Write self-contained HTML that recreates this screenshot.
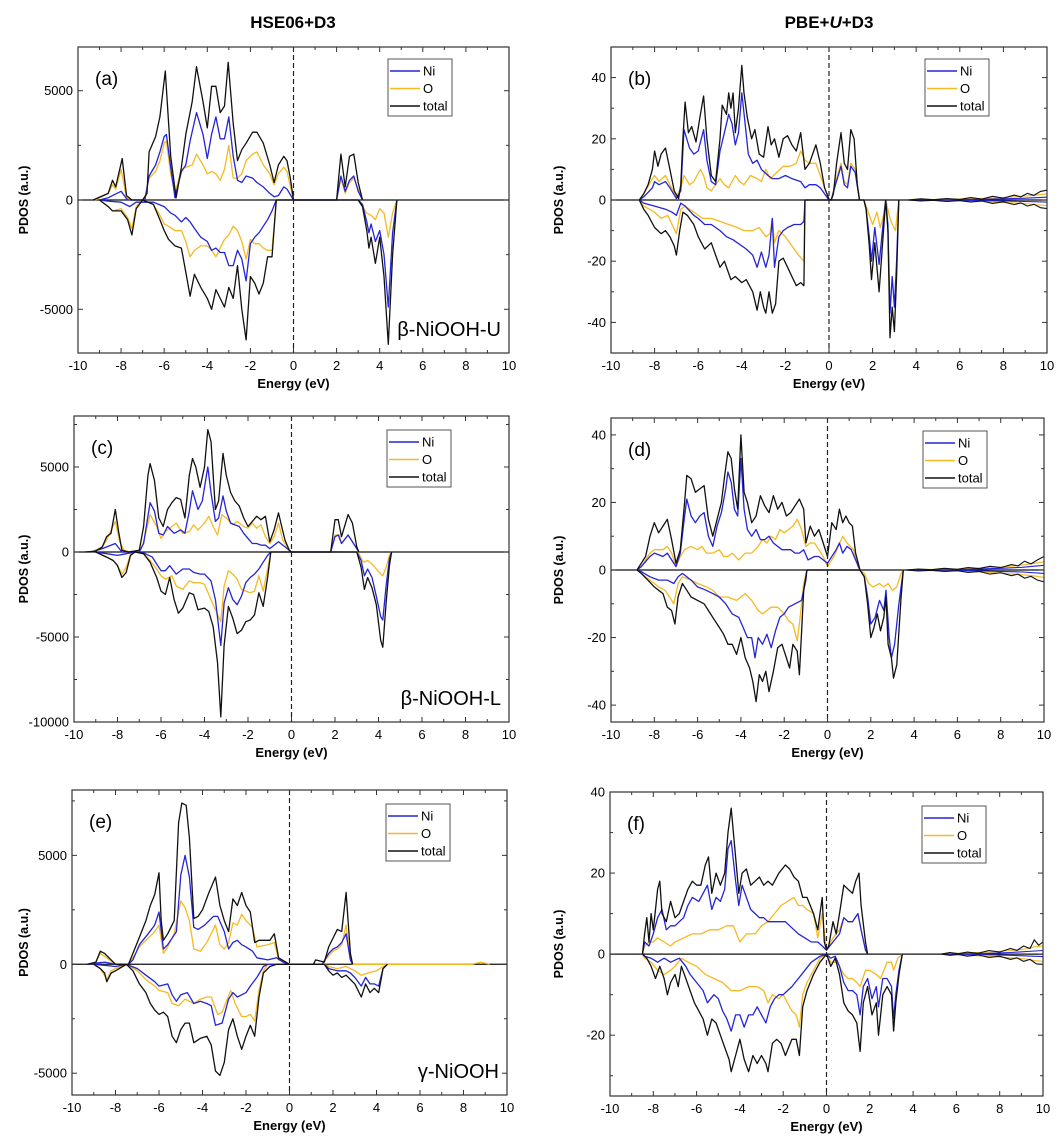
<!DOCTYPE html>
<html><head><meta charset="utf-8">
<style>
html,body{margin:0;padding:0;background:#fff;}
svg{display:block;font-family:"Liberation Sans",Arial,sans-serif;}
</style></head>
<body>
<svg id="fig" xmlns="http://www.w3.org/2000/svg" width="1062" height="1146" viewBox="0 0 1062 1146">
<rect width="1062" height="1146" fill="#fff"/>
<text x="293" y="28" text-anchor="middle" font-size="17" font-weight="bold">HSE06+D3</text>
<text x="829" y="28" text-anchor="middle" font-size="17" font-weight="bold">PBE+<tspan font-style="italic">U</tspan>+D3</text>
</svg>
<script>
// ---------- panel (a) data: [energy eV, PDOS] ----------
const a_tot_up=[[-9.3,0],[-8.6,300],[-8.4,900],[-8.25,600],[-7.95,1900],[-7.75,200],[-7.5,0],[-7.0,0],[-6.8,300],[-6.7,2200],[-6.4,2900],[-6.2,3800],[-5.95,5900],[-5.7,2000],[-5.45,100],[-5.2,1500],[-5.0,3000],[-4.7,4500],[-4.5,6100],[-4.2,4500],[-4.0,3300],[-3.8,5200],[-3.6,5200],[-3.4,4000],[-3.2,4300],[-3.03,6300],[-2.8,3500],[-2.6,1800],[-2.4,2300],[-2.2,2600],[-1.9,3100],[-1.7,3100],[-1.4,2600],[-1.1,1600],[-0.9,800],[-0.7,1600],[-0.45,2000],[-0.3,1800],[-0.15,1000],[0,0],[2.0,0],[2.2,2100],[2.4,600],[2.6,2000],[2.8,2100],[3.0,800],[3.2,0]];
const a_ni_up=[[-9.0,0],[-8.6,100],[-8.4,200],[-8.0,400],[-7.7,0],[-6.9,0],[-6.7,1100],[-6.4,1600],[-6.2,2200],[-6.0,2900],[-5.9,3000],[-5.7,1500],[-5.5,100],[-5.2,1300],[-5.0,1600],[-4.8,2700],[-4.5,4000],[-4.2,3000],[-4.0,1900],[-3.8,3000],[-3.6,3800],[-3.4,2800],[-3.2,2800],[-3.0,3800],[-2.8,2000],[-2.6,900],[-2.4,800],[-2.2,1100],[-1.9,1000],[-1.7,800],[-1.4,600],[-1.1,300],[-0.9,150],[-0.7,200],[-0.45,600],[-0.3,500],[0,0],[2.0,0],[2.2,1100],[2.4,400],[2.6,900],[2.8,1100],[3.0,400],[3.2,0]];
const a_o_up=[[-9.2,0],[-8.6,300],[-8.4,700],[-8.25,500],[-8.0,1400],[-7.75,100],[-7.5,0],[-6.9,0],[-6.7,1000],[-6.4,1300],[-6.2,1800],[-6.0,2600],[-5.9,2700],[-5.7,1200],[-5.5,300],[-5.2,1400],[-5.0,1500],[-4.7,1600],[-4.5,2100],[-4.2,1600],[-4.0,1200],[-3.8,1300],[-3.6,1200],[-3.4,900],[-3.2,1400],[-3.0,2500],[-2.8,1000],[-2.6,1000],[-2.4,1200],[-2.2,1800],[-1.9,2100],[-1.7,2200],[-1.4,1600],[-1.1,1200],[-0.9,700],[-0.7,1200],[-0.45,1500],[-0.3,1300],[0,0],[2.0,0],[2.2,1000],[2.4,300],[2.6,800],[2.8,1000],[3.0,500],[3.2,0]];
const a_tot_dn=[[-9.0,0],[-8.6,-300],[-8.4,-500],[-8.0,-500],[-7.7,-900],[-7.5,-1600],[-7.3,-400],[-7.0,0],[-6.5,-200],[-6.2,-900],[-6.0,-1400],[-5.8,-1800],[-5.5,-2100],[-5.2,-2200],[-5.0,-3300],[-4.8,-4400],[-4.6,-3400],[-4.3,-4000],[-4.0,-4500],[-3.8,-5000],[-3.6,-4100],[-3.4,-4500],[-3.2,-4900],[-3.0,-4000],[-2.8,-4500],[-2.6,-3000],[-2.4,-5000],[-2.2,-6400],[-2.0,-3500],[-1.8,-3800],[-1.6,-4300],[-1.4,-3800],[-1.2,-2600],[-1.0,-2600],[-0.8,0],[3.0,0],[3.2,-300],[3.4,-1400],[3.5,-2200],[3.6,-1700],[3.8,-2900],[4.0,-1700],[4.2,-3500],[4.4,-6600],[4.6,-2500],[4.8,0]];
const a_ni_dn=[[-9.0,0],[-8.6,-50],[-8.0,-100],[-7.6,-300],[-7.3,-100],[-6.5,-100],[-6.0,-300],[-5.7,-600],[-5.5,-700],[-5.2,-1000],[-5.0,-800],[-4.8,-1000],[-4.6,-1300],[-4.3,-1700],[-4.0,-1900],[-3.8,-2300],[-3.6,-2200],[-3.4,-2400],[-3.2,-2400],[-3.0,-3000],[-2.8,-3000],[-2.6,-2300],[-2.4,-2700],[-2.2,-3700],[-2.0,-2000],[-1.8,-1700],[-1.6,-1500],[-1.4,-1200],[-1.2,-900],[-1.0,-500],[-0.8,0],[3.0,0],[3.2,-200],[3.4,-1000],[3.5,-1500],[3.6,-1100],[3.8,-1900],[4.0,-1400],[4.2,-2500],[4.4,-4900],[4.6,-1500],[4.8,0]];
const a_o_dn=[[-9.0,0],[-8.6,-300],[-8.4,-500],[-8.0,-400],[-7.7,-800],[-7.5,-1300],[-7.3,-300],[-7.0,0],[-6.5,-200],[-6.2,-700],[-6.0,-1100],[-5.8,-1200],[-5.5,-1400],[-5.2,-1400],[-5.0,-1900],[-4.8,-2600],[-4.6,-2300],[-4.3,-2100],[-4.0,-2100],[-3.8,-2300],[-3.6,-2600],[-3.4,-2200],[-3.2,-1800],[-3.0,-1600],[-2.8,-1200],[-2.6,-1400],[-2.4,-1900],[-2.2,-2700],[-2.0,-1800],[-1.8,-2000],[-1.6,-2000],[-1.4,-2200],[-1.2,-2300],[-1.0,-2300],[-0.8,0],[3.0,0],[3.2,-300],[3.4,-600],[3.6,-700],[3.8,-900],[4.0,-400],[4.2,-600],[4.4,-1700],[4.6,-600],[4.8,0]];

// ---------- panel (b) data ----------
const b_tot_up=[[-8.7,0],[-8.5,2],[-8.3,5],[-8.1,10],[-8.0,16],[-7.85,11],[-7.7,15],[-7.5,17],[-7.3,10],[-7.1,3],[-6.9,0.5],[-6.8,5],[-6.7,20],[-6.6,32],[-6.45,22],[-6.3,24],[-6.1,19],[-5.9,28],[-5.75,34],[-5.6,20],[-5.4,8],[-5.2,6],[-5.0,20],[-4.9,31],[-4.7,28],[-4.6,35],[-4.5,30],[-4.4,35],[-4.3,22],[-4.15,30],[-4.0,44],[-3.9,35],[-3.75,27],[-3.55,20],[-3.4,23],[-3.2,15],[-3.0,14],[-2.8,24],[-2.65,18],[-2.5,20],[-2.3,14],[-2.1,20],[-1.9,21],[-1.7,18],[-1.5,16],[-1.3,22],[-1.1,10],[-0.9,12],[-0.6,18],[-0.4,12],[-0.2,4],[0,0.3],[0.1,0],[0.2,2],[0.35,12],[0.55,22],[0.7,12],[0.85,10],[1.0,23],[1.15,20],[1.3,5],[1.4,0]];
const b_ni_up=[[-8.7,0],[-8.5,1],[-8.1,4],[-8.0,6],[-7.8,5],[-7.5,6],[-7.3,4],[-7.0,0.5],[-6.8,3],[-6.65,23],[-6.4,17],[-6.2,15],[-6.0,16],[-5.75,23],[-5.6,13],[-5.4,6],[-5.2,5],[-5.0,16],[-4.8,22],[-4.6,28],[-4.45,25],[-4.3,18],[-4.15,22],[-4.0,35],[-3.85,25],[-3.7,15],[-3.5,12],[-3.3,13],[-3.1,10],[-2.8,8],[-2.6,7],[-2.3,7],[-2.0,8],[-1.7,7],[-1.3,6],[-1.1,4],[-0.9,5],[-0.6,5],[-0.4,4],[-0.2,2],[0,0],[0.1,0],[0.3,5],[0.55,11],[0.7,5],[0.85,4],[1.0,11],[1.2,9],[1.4,0]];
const b_o_up=[[-8.7,0],[-8.5,2],[-8.1,7],[-8.0,8],[-7.8,6],[-7.5,8],[-7.3,5],[-7.0,1],[-6.8,4],[-6.65,8],[-6.4,5],[-6.2,6],[-5.9,10],[-5.75,8],[-5.6,4],[-5.4,3],[-5.2,5],[-5.0,7],[-4.8,5],[-4.6,4],[-4.3,8],[-4.1,6],[-3.9,5],[-3.6,8],[-3.3,7],[-3.1,6],[-2.9,10],[-2.7,7],[-2.4,9],[-2.1,11],[-1.8,11],[-1.5,12],[-1.3,16],[-1.1,13],[-0.9,12],[-0.6,12],[-0.4,8],[-0.2,4],[0,0],[0.1,0],[0.3,6],[0.55,12],[0.7,6],[0.85,5],[1.0,12],[1.2,10],[1.4,0]];
const b_tot_dn=[[-8.7,0],[-8.5,-3],[-8.3,-5],[-8.0,-9],[-7.7,-11],[-7.5,-10],[-7.3,-12],[-7.1,-15],[-7.0,-18],[-6.85,-10],[-6.7,-4],[-6.5,-5],[-6.2,-8],[-6.0,-12],[-5.7,-16],[-5.4,-14],[-5.2,-18],[-5.0,-22],[-4.8,-20],[-4.5,-26],[-4.3,-25],[-4.0,-27],[-3.8,-26],[-3.5,-30],[-3.3,-36],[-3.15,-30],[-3.0,-35],[-2.9,-37],[-2.75,-30],[-2.6,-37],[-2.45,-34],[-2.3,-20],[-2.1,-19],[-1.9,-22],[-1.7,-25],[-1.5,-28],[-1.3,-27],[-1.15,-28],[-1.1,0],[1.6,0],[1.7,-3],[1.85,-15],[1.95,-26],[2.1,-14],[2.3,-30],[2.45,-15],[2.6,0],[2.7,-10],[2.8,-45],[2.9,-35],[3.0,-43],[3.1,-25],[3.2,0]];
const b_ni_dn=[[-8.7,0],[-8.5,-1],[-8.0,-2],[-7.5,-3],[-7.2,-4],[-7.0,-5],[-6.8,-1],[-6.6,-2],[-6.2,-5],[-6.0,-6],[-5.7,-8],[-5.4,-8],[-5.0,-10],[-4.7,-12],[-4.4,-13],[-4.0,-15],[-3.8,-16],[-3.5,-18],[-3.3,-22],[-3.1,-17],[-2.9,-22],[-2.75,-18],[-2.6,-6],[-2.5,-22],[-2.3,-12],[-2.1,-10],[-1.9,-9],[-1.6,-8],[-1.3,-8],[-1.15,-7],[-1.1,0],[1.6,0],[1.7,-3],[1.85,-12],[1.95,-20],[2.1,-9],[2.3,-21],[2.45,-10],[2.6,0],[2.7,-8],[2.8,-37],[2.9,-25],[3.0,-35],[3.1,-20],[3.2,0]];
const b_o_dn=[[-8.7,0],[-8.5,-2],[-8.0,-4],[-7.7,-6],[-7.4,-5],[-7.2,-8],[-7.0,-11],[-6.8,-3],[-6.6,-2],[-6.2,-4],[-5.8,-6],[-5.4,-6],[-5.0,-7],[-4.6,-8],[-4.2,-9],[-3.9,-10],[-3.5,-10],[-3.2,-9],[-2.9,-12],[-2.7,-11],[-2.6,-6],[-2.5,-14],[-2.3,-10],[-2.0,-12],[-1.7,-15],[-1.4,-18],[-1.15,-20],[-1.1,0],[1.6,0],[1.7,-2],[1.9,-6],[2.0,-8],[2.2,-4],[2.35,-9],[2.5,-5],[2.6,0],[2.8,-6],[2.9,-8],[3.05,-10],[3.2,0]];
const b_tail_tot_up=[[3.6,0],[4.2,0.4],[4.8,0.1],[5.4,0.5],[6.0,0.2],[6.5,0.8],[7.0,0.3],[7.5,1.2],[8.0,0.6],[8.5,1.6],[8.8,1.0],[9.1,2.2],[9.4,1.5],[9.7,2.8],[10,3.2]];
const b_tail_tot_dn=[[3.6,0],[4.2,-0.3],[4.8,-0.1],[5.4,-0.5],[6.0,-0.2],[6.5,-0.7],[7.0,-0.3],[7.5,-1.1],[8.0,-0.6],[8.5,-1.5],[8.8,-0.9],[9.1,-2.0],[9.4,-1.4],[9.7,-2.5],[10,-2.8]];
const b_tail_o_up=[[3.6,0],[5.0,0.2],[6.0,0.3],[7.0,0.5],[8.0,0.8],[8.6,1.1],[9.2,1.4],[9.6,1.7],[10,2.0]];
const b_tail_o_dn=[[3.6,0],[5.0,-0.2],[6.0,-0.3],[7.0,-0.5],[8.0,-0.8],[8.6,-1.0],[9.2,-1.3],[9.6,-1.6],[10,-1.8]];
const b_tail_ni_up=[[3.6,0],[6.0,0.1],[8.0,0.4],[9.0,0.6],[10,0.9]];
const b_tail_ni_dn=[[3.6,0],[6.0,-0.1],[8.0,-0.3],[9.0,-0.5],[10,-0.7]];

// ---------- panel (c) data ----------
const c_tot_up=[[-9.5,0],[-9.0,50],[-8.7,300],[-8.5,900],[-8.3,1100],[-8.1,2500],[-7.95,1200],[-7.8,100],[-7.5,0],[-7.0,100],[-6.8,1500],[-6.6,4500],[-6.5,5200],[-6.3,4200],[-6.1,2000],[-5.9,1500],[-5.7,2500],[-5.5,2900],[-5.3,3200],[-5.1,3100],[-4.9,2000],[-4.7,4500],[-4.55,5500],[-4.4,5000],[-4.2,3800],[-4.0,5000],[-3.85,7200],[-3.7,6500],[-3.5,2500],[-3.35,3000],[-3.15,5800],[-3.0,4500],[-2.8,3500],[-2.6,3000],[-2.4,2700],[-2.2,2000],[-2.0,1500],[-1.8,1800],[-1.6,2100],[-1.4,1900],[-1.2,2100],[-1.0,600],[-0.8,1300],[-0.6,2300],[-0.45,1500],[-0.3,700],[-0.1,100],[0,0],[1.8,0],[2.0,1900],[2.15,1900],[2.3,900],[2.6,2200],[2.8,1700],[3.0,300],[3.1,0]];
const c_ni_up=[[-9.2,0],[-8.7,200],[-8.1,500],[-7.8,0],[-7.0,0],[-6.8,500],[-6.5,2900],[-6.3,2400],[-6.1,1100],[-5.9,1000],[-5.7,1500],[-5.4,1100],[-5.1,1300],[-4.9,1100],[-4.7,2400],[-4.55,3600],[-4.3,2500],[-4.1,3000],[-3.85,5000],[-3.7,3500],[-3.5,1800],[-3.35,2000],[-3.15,3300],[-3.0,2400],[-2.8,1700],[-2.4,1500],[-2.2,1100],[-2.0,800],[-1.8,500],[-1.6,500],[-1.4,400],[-1.2,400],[-1.0,200],[-0.6,600],[-0.3,300],[0,0],[1.8,0],[2.0,900],[2.15,1000],[2.3,500],[2.6,1000],[3.0,200],[3.1,0]];
const c_o_up=[[-9.2,0],[-8.7,300],[-8.5,700],[-8.1,1800],[-7.9,600],[-7.7,100],[-7.4,0],[-7.0,0],[-6.8,600],[-6.5,2200],[-6.2,1500],[-6.0,800],[-5.8,1200],[-5.6,1400],[-5.3,1700],[-5.0,1100],[-4.7,1200],[-4.5,1600],[-4.3,1300],[-4.0,1700],[-3.8,2100],[-3.6,1500],[-3.4,1000],[-3.2,2200],[-3.0,2000],[-2.7,1600],[-2.5,1800],[-2.2,1500],[-2.0,1400],[-1.8,1700],[-1.6,1400],[-1.4,1600],[-1.2,900],[-1.0,500],[-0.8,900],[-0.6,1700],[-0.4,700],[-0.1,100],[0,0],[1.8,0],[2.0,1000],[2.2,1000],[2.3,500],[2.6,1000],[3.0,200],[3.1,0]];
const c_tot_dn=[[-9.0,0],[-8.5,-300],[-8.2,-500],[-8.0,-800],[-7.8,-1500],[-7.6,-1200],[-7.4,-200],[-7.2,0],[-6.8,-100],[-6.5,-600],[-6.2,-1500],[-6.0,-2300],[-5.8,-2500],[-5.6,-1500],[-5.4,-2800],[-5.2,-3600],[-5.0,-3300],[-4.7,-2400],[-4.5,-2500],[-4.3,-3400],[-4.0,-3300],[-3.8,-3500],[-3.6,-4400],[-3.4,-6500],[-3.25,-9700],[-3.1,-5500],[-2.9,-3200],[-2.7,-3900],[-2.5,-4800],[-2.3,-4600],[-2.1,-4100],[-1.9,-4000],[-1.7,-3700],[-1.5,-2400],[-1.3,-3200],[-1.1,-1500],[-0.95,0],[3.0,0],[3.2,-900],[3.35,-2200],[3.5,-1500],[3.7,-2100],[3.9,-3100],[4.1,-5200],[4.2,-5600],[4.35,-3000],[4.5,-800],[4.6,0]];
const c_ni_dn=[[-9.0,0],[-8.5,-100],[-8.0,-200],[-7.6,-100],[-7.2,0],[-6.8,-50],[-6.4,-300],[-6.0,-1100],[-5.8,-1100],[-5.6,-800],[-5.3,-1300],[-5.0,-1000],[-4.7,-1000],[-4.5,-1200],[-4.2,-1300],[-4.0,-1300],[-3.7,-1700],[-3.5,-2800],[-3.25,-5500],[-3.1,-3000],[-2.9,-2100],[-2.7,-2800],[-2.5,-3100],[-2.3,-2600],[-2.1,-1800],[-1.9,-1500],[-1.7,-1300],[-1.5,-1000],[-1.3,-600],[-1.1,-200],[-0.95,0],[3.0,0],[3.2,-500],[3.35,-1400],[3.5,-1000],[3.7,-1500],[3.9,-2600],[4.1,-3800],[4.2,-4000],[4.35,-2000],[4.5,-400],[4.6,0]];
const c_o_dn=[[-9.0,0],[-8.5,-300],[-8.2,-500],[-8.0,-800],[-7.8,-1300],[-7.6,-900],[-7.4,-150],[-7.2,0],[-6.8,-100],[-6.5,-500],[-6.2,-1000],[-6.0,-1400],[-5.8,-1600],[-5.5,-1400],[-5.3,-2000],[-5.0,-2200],[-4.7,-1700],[-4.5,-1800],[-4.2,-1800],[-4.0,-1900],[-3.7,-2800],[-3.5,-3400],[-3.25,-4100],[-3.1,-2000],[-2.9,-1100],[-2.7,-1300],[-2.5,-1600],[-2.3,-2200],[-2.1,-2300],[-1.9,-2400],[-1.7,-2300],[-1.5,-1400],[-1.3,-2300],[-1.1,-1000],[-0.95,0],[3.0,0],[3.1,-100],[3.3,-600],[3.5,-500],[3.7,-700],[3.9,-1000],[4.1,-1300],[4.2,-1400],[4.35,-900],[4.5,-200],[4.6,0]];

// ---------- panel (d) data ----------
const d_tot_up=[[-8.8,0],[-8.6,2],[-8.4,4],[-8.2,10],[-8.0,14],[-7.8,11],[-7.6,13],[-7.4,15],[-7.2,9],[-7.0,2],[-6.8,6],[-6.6,20],[-6.5,28],[-6.3,27],[-6.1,23],[-5.9,24],[-5.7,25],[-5.5,15],[-5.3,10],[-5.1,15],[-4.9,20],[-4.75,28],[-4.6,35],[-4.45,33],[-4.3,24],[-4.15,18],[-4.0,40],[-3.85,23],[-3.7,20],[-3.5,14],[-3.3,16],[-3.1,22],[-2.9,19],[-2.7,17],[-2.5,22],[-2.3,18],[-2.1,20],[-1.9,16],[-1.7,17],[-1.5,19],[-1.3,21],[-1.1,18],[-1.0,8],[-0.8,13],[-0.6,10],[-0.4,12],[-0.2,8],[0,4],[0.2,14],[0.4,12],[0.55,18],[0.7,14],[0.85,16],[1.0,14],[1.15,13],[1.3,5],[1.5,0]];
const d_ni_up=[[-8.8,0],[-8.6,1],[-8.2,4],[-8.0,5],[-7.6,4],[-7.4,5],[-7.2,3],[-7.0,1],[-6.8,5],[-6.6,16],[-6.5,21],[-6.3,16],[-6.1,14],[-5.9,16],[-5.7,17],[-5.5,10],[-5.3,7],[-5.1,13],[-4.9,17],[-4.7,24],[-4.6,29],[-4.45,26],[-4.3,18],[-4.15,16],[-4.0,33],[-3.85,18],[-3.7,12],[-3.5,10],[-3.3,12],[-3.1,9],[-2.9,9],[-2.7,10],[-2.5,8],[-2.3,7],[-2.1,6],[-1.9,6],[-1.7,6],[-1.5,5],[-1.3,5],[-1.1,6],[-0.9,3],[-0.6,4],[-0.4,4],[-0.2,3],[0,2],[0.2,4],[0.4,6],[0.55,8],[0.7,5],[0.9,7],[1.1,6],[1.3,3],[1.5,0]];
const d_o_up=[[-8.8,0],[-8.6,1],[-8.2,5],[-8.0,6],[-7.6,6],[-7.4,7],[-7.2,5],[-7.0,1],[-6.8,4],[-6.6,6],[-6.3,7],[-6.0,6],[-5.8,7],[-5.6,5],[-5.3,5],[-5.0,6],[-4.8,4],[-4.6,4],[-4.4,5],[-4.1,3],[-3.8,5],[-3.5,5],[-3.2,7],[-3.0,9],[-2.8,8],[-2.6,10],[-2.4,9],[-2.2,12],[-2.0,11],[-1.8,12],[-1.6,13],[-1.4,15],[-1.2,12],[-1.0,7],[-0.8,8],[-0.6,8],[-0.4,6],[-0.2,4],[0,1],[0.3,4],[0.5,7],[0.7,10],[0.9,8],[1.2,6],[1.4,1],[1.5,0]];
const d_tot_dn=[[-8.8,0],[-8.6,-1],[-8.3,-3],[-8.0,-5],[-7.8,-6],[-7.6,-7],[-7.4,-11],[-7.2,-12],[-7.05,-16],[-6.9,-8],[-6.7,-4],[-6.5,-6],[-6.3,-8],[-6.0,-9],[-5.7,-10],[-5.5,-12],[-5.2,-15],[-5.0,-17],[-4.8,-19],[-4.6,-22],[-4.4,-22],[-4.2,-25],[-4.0,-20],[-3.8,-26],[-3.6,-29],[-3.45,-33],[-3.3,-39],[-3.15,-31],[-3.0,-33],[-2.85,-30],[-2.7,-36],[-2.5,-30],[-2.3,-23],[-2.1,-22],[-1.9,-26],[-1.75,-29],[-1.6,-22],[-1.4,-24],[-1.3,-31],[-1.1,-6],[-0.95,0],[1.5,0],[1.7,-2],[1.85,-10],[2.0,-20],[2.15,-17],[2.3,-13],[2.45,-18],[2.6,-14],[2.7,-8],[2.8,-22],[2.95,-26],[3.05,-32],[3.2,-28],[3.4,-8],[3.5,0]];
const d_ni_dn=[[-8.8,0],[-8.6,-0.5],[-8.2,-2],[-7.8,-3],[-7.4,-3],[-7.1,-4],[-6.9,-2],[-6.7,-1],[-6.3,-3],[-6.0,-5],[-5.6,-6],[-5.3,-7],[-5.0,-8],[-4.7,-10],[-4.4,-13],[-4.1,-14],[-3.9,-17],[-3.7,-20],[-3.5,-20],[-3.35,-26],[-3.2,-20],[-3.0,-22],[-2.8,-19],[-2.6,-23],[-2.4,-18],[-2.2,-14],[-2.0,-13],[-1.8,-11],[-1.5,-10],[-1.2,-9],[-1.0,-3],[-0.95,0],[1.5,0],[1.7,-2],[1.85,-8],[2.0,-16],[2.2,-14],[2.4,-9],[2.6,-12],[2.7,-6],[2.85,-20],[2.95,-26],[3.1,-22],[3.3,-10],[3.5,0]];
const d_o_dn=[[-8.8,0],[-8.6,-1],[-8.2,-3],[-7.8,-5],[-7.5,-6],[-7.3,-8],[-7.1,-10],[-6.9,-4],[-6.7,-2],[-6.3,-3],[-6.0,-4],[-5.6,-5],[-5.3,-6],[-5.0,-8],[-4.6,-8],[-4.2,-9],[-3.8,-7],[-3.5,-9],[-3.2,-12],[-3.0,-13],[-2.8,-12],[-2.6,-11],[-2.3,-11],[-2.0,-13],[-1.8,-15],[-1.6,-16],[-1.4,-21],[-1.3,-16],[-1.1,-4],[-0.95,0],[1.5,0],[1.7,-1],[1.9,-4],[2.1,-5],[2.4,-4],[2.6,-5],[2.8,-4],[3.0,-6],[3.2,-5],[3.4,-1],[3.5,0]];
const d_tail_tot_up=[[3.6,0],[4.2,0.3],[4.8,0.1],[5.4,0.5],[6.0,0.2],[6.5,0.7],[7.0,0.4],[7.5,1.1],[8.0,0.7],[8.5,1.6],[8.8,1.2],[9.1,2.6],[9.4,1.8],[9.7,3.0],[10,4.0]];
const d_tail_tot_dn=[[3.6,0],[4.2,-0.3],[4.8,-0.1],[5.4,-0.4],[6.0,-0.2],[6.5,-0.7],[7.0,-0.4],[7.5,-1.2],[8.0,-0.8],[8.5,-1.7],[8.8,-1.2],[9.1,-2.4],[9.4,-1.9],[9.7,-3.0],[10,-3.5]];
const d_tail_o_up=[[3.6,0],[5.0,0.2],[6.0,0.3],[7.0,0.6],[8.0,0.9],[8.6,1.2],[9.2,1.6],[9.6,2.0],[10,2.4]];
const d_tail_o_dn=[[3.6,0],[5.0,-0.2],[6.0,-0.3],[7.0,-0.6],[8.0,-0.9],[8.6,-1.2],[9.2,-1.5],[9.6,-1.8],[10,-2.2]];
const d_tail_ni_up=[[3.6,0],[6.0,0.1],[8.0,0.5],[9.0,0.8],[10,1.4]];
const d_tail_ni_dn=[[3.6,0],[6.0,-0.1],[8.0,-0.4],[9.0,-0.6],[10,-1.0]];

// ---------- panel (e) data ----------
const e_tot_up=[[-9.3,0],[-8.9,100],[-8.7,600],[-8.5,500],[-8.3,300],[-8.0,0],[-7.4,0],[-7.2,500],[-7.0,1000],[-6.8,1500],[-6.6,2000],[-6.4,2700],[-6.2,3200],[-6.0,4200],[-5.9,2000],[-5.8,1100],[-5.6,1400],[-5.3,2000],[-5.1,6500],[-4.95,7400],[-4.75,7300],[-4.6,5800],[-4.4,2100],[-4.2,2200],[-4.0,2500],[-3.7,3300],[-3.4,4000],[-3.2,2700],[-3.0,2000],[-2.8,1500],[-2.6,3000],[-2.4,2700],[-2.2,3300],[-2.0,2700],[-1.8,2400],[-1.6,1000],[-1.4,1100],[-1.2,1100],[-0.9,1100],[-0.7,1400],[-0.5,300],[0,0],[1.1,0],[1.2,200],[1.6,100],[1.8,800],[2.0,1200],[2.2,1600],[2.4,1500],[2.6,3300],[2.8,500],[2.9,0]];
const e_ni_up=[[-9.2,0],[-8.9,50],[-8.5,100],[-8.0,0],[-7.4,0],[-7.2,200],[-6.9,900],[-6.5,1400],[-6.2,1800],[-6.0,2400],[-5.8,700],[-5.6,900],[-5.2,1500],[-5.0,4100],[-4.8,5000],[-4.6,4000],[-4.4,1700],[-4.2,1600],[-3.9,1800],[-3.5,2200],[-3.3,2200],[-3.0,1500],[-2.8,700],[-2.6,1000],[-2.4,1100],[-2.2,900],[-2.0,800],[-1.7,600],[-1.5,300],[-1.0,200],[-0.6,300],[-0.3,100],[0,0],[1.5,0],[1.8,500],[2.0,700],[2.2,800],[2.4,1000],[2.6,1400],[2.8,200],[2.9,0]];
const e_o_up=[[-9.2,0],[-8.9,100],[-8.7,500],[-8.4,300],[-8.0,0],[-7.4,0],[-7.2,300],[-6.9,800],[-6.5,1200],[-6.2,1500],[-6.0,1800],[-5.8,500],[-5.6,800],[-5.3,1400],[-5.0,2900],[-4.8,2600],[-4.6,2000],[-4.4,700],[-4.1,600],[-3.8,1000],[-3.4,1800],[-3.2,900],[-3.0,700],[-2.8,1000],[-2.6,1900],[-2.4,1800],[-2.2,2300],[-2.0,2000],[-1.7,1700],[-1.5,800],[-1.0,900],[-0.7,1000],[-0.5,200],[0,0],[1.5,0],[1.8,400],[2.0,600],[2.2,700],[2.4,900],[2.6,1800],[2.8,300],[2.9,0],[8.4,0],[8.8,100],[9.2,0]];
const e_tot_dn=[[-9.0,0],[-8.7,-200],[-8.5,-400],[-8.4,-800],[-8.2,-400],[-8.0,-300],[-7.5,0],[-7.2,-300],[-6.9,-900],[-6.6,-1300],[-6.4,-1800],[-6.2,-2100],[-6.0,-2300],[-5.8,-2200],[-5.6,-2400],[-5.4,-3300],[-5.2,-3600],[-5.0,-3000],[-4.8,-2700],[-4.6,-2700],[-4.4,-3600],[-4.1,-3400],[-3.8,-3300],[-3.6,-3700],[-3.4,-4900],[-3.2,-5100],[-3.0,-4500],[-2.8,-3000],[-2.6,-2500],[-2.4,-3300],[-2.2,-3900],[-2.0,-3300],[-1.8,-2800],[-1.6,-3300],[-1.4,-1500],[-1.2,-400],[-0.9,-100],[-0.6,0],[1.6,0],[1.8,-300],[2.0,-500],[2.2,-400],[2.4,-600],[2.6,-500],[2.8,-700],[3.0,-900],[3.3,-1500],[3.5,-900],[3.7,-1300],[3.9,-1100],[4.1,-1300],[4.3,-200],[4.5,0]];
const e_ni_dn=[[-9.0,0],[-8.5,-50],[-8.0,-100],[-7.5,0],[-7.0,-200],[-6.6,-500],[-6.2,-800],[-6.0,-1000],[-5.6,-900],[-5.4,-1400],[-5.2,-1700],[-5.0,-1400],[-4.7,-1300],[-4.4,-1800],[-4.1,-1700],[-3.8,-1800],[-3.6,-1900],[-3.4,-2800],[-3.1,-2700],[-2.8,-1600],[-2.6,-1300],[-2.4,-1500],[-2.2,-1400],[-2.0,-1300],[-1.8,-1000],[-1.5,-600],[-1.2,-100],[-1.0,0],[1.6,0],[1.8,-200],[2.2,-300],[2.6,-300],[2.8,-400],[3.0,-600],[3.3,-1000],[3.5,-600],[3.7,-900],[3.9,-900],[4.1,-1000],[4.3,-200],[4.5,0]];
const e_o_dn=[[-9.0,0],[-8.7,-200],[-8.4,-700],[-8.2,-300],[-8.0,-200],[-7.5,0],[-7.0,-300],[-6.6,-700],[-6.2,-1000],[-6.0,-1200],[-5.6,-1300],[-5.4,-1800],[-5.1,-1900],[-4.8,-1600],[-4.4,-1800],[-4.1,-1600],[-3.8,-1500],[-3.6,-1500],[-3.3,-2300],[-3.1,-2200],[-2.9,-1700],[-2.7,-1200],[-2.5,-1800],[-2.2,-2400],[-2.0,-2400],[-1.8,-2300],[-1.6,-2600],[-1.4,-1200],[-1.2,-300],[-1.0,0],[1.6,0],[1.8,-100],[2.2,-200],[2.6,-100],[3.0,-300],[3.3,-500],[3.6,-400],[4.0,-300],[4.3,-100],[4.5,0]];

// ---------- panel (f) data ----------
const f_tot_up=[[-8.5,0],[-8.4,5],[-8.3,9],[-8.2,3],[-8.1,10],[-8.0,6],[-7.9,11],[-7.8,16],[-7.7,18],[-7.6,10],[-7.4,8],[-7.2,13],[-7.0,9],[-6.8,10],[-6.6,13],[-6.4,16],[-6.2,18],[-6.0,17],[-5.8,17],[-5.6,22],[-5.45,24],[-5.3,15],[-5.1,20],[-4.9,17],[-4.7,20],[-4.55,30],[-4.4,36],[-4.2,24],[-4.05,15],[-3.9,20],[-3.7,21],[-3.5,17],[-3.3,18],[-3.1,19],[-2.9,17],[-2.7,18],[-2.5,17],[-2.2,20],[-1.9,22],[-1.7,21],[-1.5,19],[-1.3,18],[-1.1,14],[-0.9,14],[-0.6,10],[-0.4,6],[-0.2,14],[-0.1,3],[0,1],[0.1,2],[0.3,8],[0.45,5],[0.6,10],[0.8,17],[1.0,16],[1.2,15],[1.35,18],[1.5,20],[1.6,12],[1.8,3],[1.9,0]];
const f_ni_up=[[-8.5,0],[-8.4,3],[-8.2,2],[-8.0,5],[-7.8,9],[-7.6,11],[-7.4,6],[-7.2,7],[-7.0,7],[-6.8,8],[-6.6,9],[-6.4,12],[-6.2,14],[-5.9,13],[-5.7,15],[-5.5,17],[-5.3,11],[-5.1,14],[-4.9,13],[-4.7,16],[-4.55,26],[-4.4,28],[-4.2,18],[-4.05,12],[-3.9,17],[-3.7,14],[-3.5,11],[-3.3,10],[-3.1,9],[-2.9,9],[-2.7,8],[-2.5,8],[-2.2,8],[-1.9,8],[-1.7,7],[-1.5,6],[-1.3,5],[-1.0,4],[-0.7,3],[-0.4,3],[-0.2,2],[0,1],[0.3,3],[0.6,5],[0.8,9],[1.0,8],[1.2,8],[1.45,10],[1.6,6],[1.8,1],[1.9,0]];
const f_o_up=[[-8.5,0],[-8.4,2],[-8.2,3],[-8.0,3],[-7.8,4],[-7.5,3],[-7.2,2],[-7.0,3],[-6.6,4],[-6.2,5],[-5.8,5],[-5.4,6],[-5.0,6],[-4.6,7],[-4.3,7],[-4.0,3],[-3.7,5],[-3.3,5],[-3.0,7],[-2.7,8],[-2.4,10],[-2.1,12],[-1.8,13],[-1.5,14],[-1.3,12],[-1.1,12],[-0.9,11],[-0.6,10],[-0.4,4],[-0.2,10],[0,1],[0.3,4],[0.6,6],[0.8,9],[1.0,8],[1.2,8],[1.45,10],[1.6,6],[1.8,1],[1.9,0]];
const f_tot_dn=[[-8.5,0],[-8.3,-1],[-8.1,-3],[-7.9,-6],[-7.7,-3],[-7.5,-6],[-7.35,-10],[-7.2,-7],[-7.0,-5],[-6.85,-8],[-6.7,-3],[-6.5,-6],[-6.3,-9],[-6.1,-12],[-5.9,-14],[-5.7,-16],[-5.5,-20],[-5.3,-16],[-5.1,-17],[-4.9,-20],[-4.7,-23],[-4.5,-26],[-4.4,-29],[-4.2,-25],[-4.0,-21],[-3.8,-26],[-3.6,-29],[-3.4,-25],[-3.2,-27],[-3.0,-25],[-2.8,-27],[-2.7,-29],[-2.5,-22],[-2.3,-21],[-2.1,-22],[-1.9,-25],[-1.6,-21],[-1.4,-21],[-1.25,-25],[-1.1,-13],[-0.9,-9],[-0.6,-5],[-0.3,-2],[0,0],[0.2,-3],[0.4,-1],[0.6,-5],[0.8,-12],[1.0,-14],[1.2,-15],[1.4,-17],[1.55,-24],[1.7,-12],[1.9,-8],[2.1,-15],[2.3,-12],[2.4,-20],[2.6,-10],[2.8,-8],[3.0,-10],[3.1,-19],[3.2,-12],[3.35,-5],[3.5,0]];
const f_ni_dn=[[-8.5,0],[-8.4,-0.5],[-8.1,-1],[-7.8,-2],[-7.5,-1],[-7.2,-2],[-6.8,-1],[-6.5,-3],[-6.3,-5],[-6.0,-7],[-5.7,-9],[-5.5,-12],[-5.2,-10],[-5.0,-11],[-4.8,-14],[-4.6,-16],[-4.4,-19],[-4.2,-15],[-4.0,-15],[-3.8,-18],[-3.6,-15],[-3.4,-15],[-3.2,-13],[-3.0,-15],[-2.8,-17],[-2.6,-13],[-2.4,-11],[-2.2,-10],[-2.0,-10],[-1.8,-9],[-1.6,-8],[-1.3,-6],[-1.0,-4],[-0.7,-2],[-0.3,-0.5],[0,0],[0.2,-1],[0.4,-0.5],[0.6,-3],[0.8,-7],[1.0,-9],[1.2,-9],[1.4,-10],[1.55,-15],[1.7,-8],[1.9,-6],[2.1,-11],[2.3,-8],[2.4,-13],[2.6,-6],[2.8,-6],[3.0,-8],[3.1,-16],[3.2,-10],[3.35,-4],[3.5,0]];
const f_o_dn=[[-8.5,0],[-8.4,-1],[-8.1,-2],[-7.8,-4],[-7.5,-5],[-7.2,-4],[-7.0,-3],[-6.7,-1],[-6.4,-2],[-6.0,-3],[-5.6,-5],[-5.2,-6],[-4.8,-7],[-4.4,-9],[-4.0,-9],[-3.6,-8],[-3.2,-8],[-2.9,-9],[-2.7,-12],[-2.5,-10],[-2.2,-11],[-2.0,-10],[-1.8,-12],[-1.6,-14],[-1.4,-15],[-1.25,-18],[-1.1,-10],[-0.9,-7],[-0.6,-4],[-0.3,-1],[0,0],[0.2,-2],[0.5,-2],[0.8,-5],[1.0,-6],[1.2,-6],[1.4,-7],[1.55,-8],[1.8,-4],[2.0,-4],[2.3,-5],[2.5,-6],[2.8,-2],[3.0,-2],[3.1,-4],[3.3,-1],[3.5,0]];
const f_tail_tot_up=[[5.3,0],[5.7,0.4],[6.1,0.1],[6.5,0.5],[7.0,0.2],[7.5,0.9],[8.0,0.5],[8.5,1.4],[8.8,0.9],[9.1,2.0],[9.4,1.4],[9.6,3.5],[9.8,2.2],[10,3.0]];
const f_tail_tot_dn=[[5.3,0],[5.7,-0.3],[6.1,-0.1],[6.5,-0.5],[7.0,-0.2],[7.5,-0.8],[8.0,-0.5],[8.5,-1.3],[8.8,-0.9],[9.1,-1.8],[9.4,-1.3],[9.7,-2.4],[10,-2.5]];
const f_tail_o_up=[[5.3,0],[6.5,0.3],[7.5,0.5],[8.5,0.9],[9.2,1.3],[9.6,1.8],[10,2.0]];
const f_tail_o_dn=[[5.3,0],[6.5,-0.3],[7.5,-0.5],[8.5,-0.9],[9.2,-1.2],[9.6,-1.6],[10,-1.8]];
const f_tail_ni_up=[[5.3,0],[7.0,0.1],[8.5,0.4],[10,0.9]];
const f_tail_ni_dn=[[5.3,0],[7.0,-0.1],[8.5,-0.3],[10,-0.6]];

// ---------- axis tick definitions ----------
const xTickLabels=[-10,-8,-6,-4,-2,0,2,4,6,8,10];
const a_yTicks=[5000,0,-5000]; const b_yTicks=[40,20,0,-20,-40];
const c_yTicks=[5000,0,-5000,-10000]; const d_yTicks=[40,20,0,-20,-40];
const e_yTicks=[5000,0,-5000]; const f_yTicks=[40,20,0,-20];
const legendLabels=["Ni","O","total"];

const COL={ni:"#2424d8",o:"#f5b922",tot:"#111"};
const NS="http://www.w3.org/2000/svg";
const svg=document.getElementById("fig");
function mk(tag,attrs,parent){const el=document.createElementNS(NS,tag);for(const k in attrs)el.setAttribute(k,attrs[k]);(parent||svg).appendChild(el);return el;}

const panels=[
 {id:"a",x0:78,x1:509,y0:47,y1:353,ymin:-7000,ymax:7000,minor:2500,ticks:a_yTicks,lab:"β-NiOOH-U",lg:[388,59],
  ser:{ni:[a_ni_up,a_ni_dn],o:[a_o_up,a_o_dn],tot:[a_tot_up,a_tot_dn]},tails:null},
 {id:"b",x0:611,x1:1047,y0:47,y1:353,ymin:-50,ymax:50,minor:10,ticks:b_yTicks,lab:null,lg:[925,59],
  ser:{ni:[b_ni_up,b_ni_dn],o:[b_o_up,b_o_dn],tot:[b_tot_up,b_tot_dn]},
  tails:{ni:[b_tail_ni_up,b_tail_ni_dn],o:[b_tail_o_up,b_tail_o_dn],tot:[b_tail_tot_up,b_tail_tot_dn]}},
 {id:"c",x0:74,x1:509,y0:416,y1:722,ymin:-10000,ymax:8000,minor:2500,ticks:c_yTicks,lab:"β-NiOOH-L",lg:[387,430],
  ser:{ni:[c_ni_up,c_ni_dn],o:[c_o_up,c_o_dn],tot:[c_tot_up,c_tot_dn]},tails:null},
 {id:"d",x0:611,x1:1044,y0:418,y1:722,ymin:-45,ymax:45,minor:10,ticks:d_yTicks,lab:null,lg:[923,431],
  ser:{ni:[d_ni_up,d_ni_dn],o:[d_o_up,d_o_dn],tot:[d_tot_up,d_tot_dn]},
  tails:{ni:[d_tail_ni_up,d_tail_ni_dn],o:[d_tail_o_up,d_tail_o_dn],tot:[d_tail_tot_up,d_tail_tot_dn]}},
 {id:"e",x0:72,x1:507,y0:790,y1:1095,ymin:-6000,ymax:8000,minor:2500,ticks:e_yTicks,lab:"γ-NiOOH",lg:[386,804],
  ser:{ni:[e_ni_up,e_ni_dn],o:[e_o_up,e_o_dn],tot:[e_tot_up,e_tot_dn]},tails:null},
 {id:"f",x0:610,x1:1043,y0:792,y1:1096,ymin:-35,ymax:40,minor:10,ticks:f_yTicks,lab:null,lg:[922,806],
  ser:{ni:[f_ni_up,f_ni_dn],o:[f_o_up,f_o_dn],tot:[f_tot_up,f_tot_dn]},
  tails:{ni:[f_tail_ni_up,f_tail_ni_dn],o:[f_tail_o_up,f_tail_o_dn],tot:[f_tail_tot_up,f_tail_tot_dn]}}
];

panels.forEach(p=>{
  const X=e=>p.x0+(e+10)/20*(p.x1-p.x0);
  const Y=v=>p.y1-(v-p.ymin)/(p.ymax-p.ymin)*(p.y1-p.y0);
  const g=mk("g",{});
  
  
  const cid="clip"+p.id;
  const cp=mk("clipPath",{id:cid},g);
  mk("rect",{x:p.x0,y:p.y0,width:p.x1-p.x0,height:p.y1-p.y0},cp);
  const plot=mk("g",{"clip-path":"url(#"+cid+")"},g);
  
  
  // zero baseline
  const base=mk("line",{x1:p.x0,x2:p.x1,y1:Y(0),y2:Y(0),stroke:"#111","stroke-width":1.2},plot);
  
  
  ["o","ni","tot"].forEach(k=>{
    p.ser[k].forEach((arr,i)=>{
      const pts=arr.map(d=>X(d[0]).toFixed(1)+","+Y(d[1]).toFixed(1)).join(" ");
      const pl=mk("polyline",{points:pts,fill:"none",stroke:COL[k],"stroke-width":1.3,"stroke-linejoin":"round"},plot);
      
      
    });
    if(p.tails){p.tails[k].forEach((arr,i)=>{
      const pts=arr.map(d=>X(d[0]).toFixed(1)+","+Y(d[1]).toFixed(1)).join(" ");
      const pl=mk("polyline",{points:pts,fill:"none",stroke:COL[k],"stroke-width":1.1},plot);
      
      
    });}
  });
  // fermi line
  const fl=mk("line",{x1:X(0),x2:X(0),y1:p.y0,y2:p.y1,stroke:"#222","stroke-width":1.2,"stroke-dasharray":"5,3"},g);
  
  
  // frame
  const fr=mk("rect",{x:p.x0,y:p.y0,width:p.x1-p.x0,height:p.y1-p.y0,fill:"none",stroke:"#333","stroke-width":1.2},g);
  
  
  // x ticks
  for(let e=-10;e<=10;e++){
    const major=e%2===0, L=major?5:3, x=X(e);
    mk("line",{x1:x,x2:x,y1:p.y1,y2:p.y1-L,stroke:"#333"},g);
    mk("line",{x1:x,x2:x,y1:p.y0,y2:p.y0+L,stroke:"#333"},g);
  }
  xTickLabels.forEach(e=>{
    const t=mk("text",{x:X(e),y:p.y1+17,"text-anchor":"middle","font-size":13},g);
    t.textContent=String(e);
    
    
  });
  // y ticks
  const start=Math.ceil(p.ymin/p.minor)*p.minor;
  for(let v=start;v<=p.ymax;v+=p.minor){
    const major=p.ticks.indexOf(v)>=0, L=major?5:3, y=Y(v);
    mk("line",{x1:p.x0,x2:p.x0+L,y1:y,y2:y,stroke:"#333"},g);
    mk("line",{x1:p.x1,x2:p.x1-L,y1:y,y2:y,stroke:"#333"},g);
  }
  p.ticks.forEach(v=>{
    const t=mk("text",{x:p.x0-5,y:Y(v)+4.5,"text-anchor":"end","font-size":13},g);
    t.textContent=String(v);
    
    
  });
  const xt=mk("text",{x:(p.x0+p.x1)/2,y:p.y1+35,"text-anchor":"middle","font-size":13,"font-weight":"bold"},g);
  xt.textContent="Energy (eV)";
  
  
  const yc=(p.y0+p.y1)/2, yx=p.x0<300?28:563;
  const yt=mk("text",{x:yx,y:yc,"text-anchor":"middle","font-size":12.5,"font-weight":"bold",transform:"rotate(-90 "+yx+" "+yc+")"},g);
  yt.textContent="PDOS (a.u.)";
  
  
  const pl=mk("text",{x:p.x0+17,y:p.y0+38,"font-size":19},g);
  pl.textContent="("+p.id+")";
  
  
  if(p.lab){
    const ml=mk("text",{x:p.x1-8,y:p.y1-17,"text-anchor":"end","font-size":20},g);
    ml.textContent=p.lab;
    
    
  }
  // legend
  const lg=mk("g",{},g);
  
  
  mk("rect",{x:p.lg[0],y:p.lg[1],width:64,height:57,fill:"#fff",stroke:"#555","stroke-width":1},lg);
  ["ni","o","tot"].forEach((k,i)=>{
    const yy=p.lg[1]+12+i*17.5;
    const ln=mk("line",{x1:p.lg[0]+2,x2:p.lg[0]+32,y1:yy,y2:yy,stroke:COL[k],"stroke-width":1.5},lg);
    
    
    const t=mk("text",{x:p.lg[0]+35,y:yy+4.5,"font-size":13},lg);
    t.textContent=legendLabels[i];
    
    
  });
});
</script>
</body></html>
